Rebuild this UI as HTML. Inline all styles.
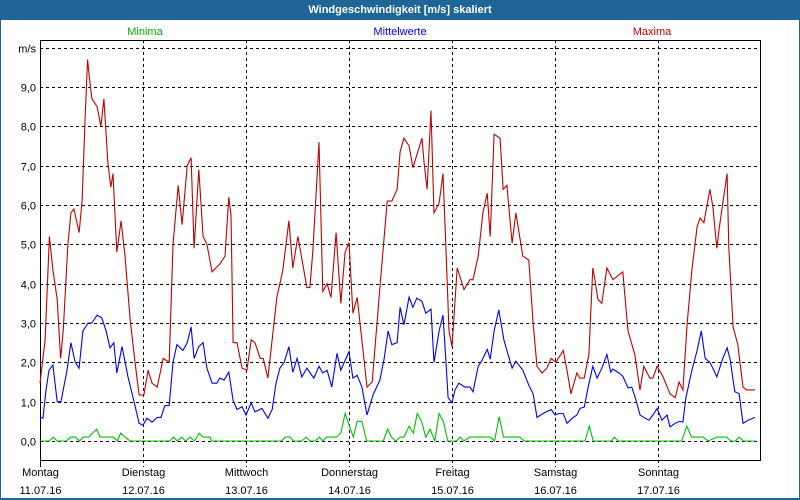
<!DOCTYPE html>
<html><head><meta charset="utf-8"><style>
body{margin:0;width:800px;height:500px;overflow:hidden;background:#fff;font-family:"Liberation Sans",sans-serif}
#frame{position:absolute;left:0;top:0;width:798px;height:498px;border:1px solid #1f6596;border-top:none;border-bottom:2px solid #1f6596;box-sizing:border-box;width:800px;height:500px}
#title{position:absolute;left:0;top:0;width:800px;height:20px;background:#1f6596;color:#fff;font-weight:bold;font-size:11px;text-align:center;line-height:20px}
svg{position:absolute;left:0;top:0}
</style></head><body>
<div id="frame"></div>
<div id="title">Windgeschwindigkeit [m/s] skaliert</div>
<svg id="chart" width="800" height="500"></svg>
<script>
const yTicks=[0,1,2,3,4,5,6,7,8,9];
const yTickLabels=["0,0","1,0","2,0","3,0","4,0","5,0","6,0","7,0","8,0","9,0"];
const dayNames=["Montag","Dienstag","Mittwoch","Donnerstag","Freitag","Samstag","Sonntag"];
const dayDates=["11.07.16","12.07.16","13.07.16","14.07.16","15.07.16","16.07.16","17.07.16"];
const maxHours=[0,1.2,2.2,3.0,4.0,4.8,5.4,6.5,7.2,7.9,9.1,9.8,10.5,11.1,11.4,12.1,13.3,14.2,14.9,15.8,16.5,17.0,17.9,18.9,19.8,21.0,22.1,23.1,24.2,25.2,26.1,27.3,28.7,30.1,31.0,32.2,33.1,34.3,35.2,35.9,37.0,38.0,38.9,40.1,41.9,43.1,44.0,44.5,45.0,45.9,47.1,48.2,49.2,50.1,51.3,52.0,53.1,54.3,55.2,56.6,58.0,58.9,60.1,62.2,62.9,63.6,65.0,65.9,66.9,67.8,69.0,70.1,71.1,72.0,72.9,73.9,76.2,77.4,79.2,80.9,82.0,83.2,83.9,84.8,86.0,86.9,89.0,89.5,90.2,91.1,91.8,93.0,93.9,94.6,95.3,96.0,97.2,98.8,100.2,100.9,102.1,103.2,104.2,104.9,105.8,107.2,107.9,108.8,110.0,110.9,112.5,113.9,114.9,115.8,117.0,118.1,119.1,120.2,121.9,122.8,123.7,125.1,125.8,126.8,127.9,128.8,129.3,130.0,130.9,132.1,133.5,135.8,137.0,138.6,139.8,140.7,142.1,142.8,143.8,145.2,146.8,148.0,148.9,149.8,150.8,151.9,153.1,153.8,154.7,156.1,156.8,157.7,158.2,159.1,160.1,160.5,161.5,162.6,163.8,164.7,166.6];
const maxValues=[1.47,2.57,5.2,4.35,3.6,2.1,2.8,5.0,5.8,5.9,5.3,6.1,8.2,9.7,9.35,8.7,8.5,8.0,8.7,7.1,6.45,6.8,4.8,5.6,4.7,3.1,2.05,1.17,1.17,1.8,1.47,1.37,2.1,2.0,5.0,6.5,5.5,7.0,7.2,4.9,6.9,5.2,5.0,4.3,4.5,4.7,6.2,5.75,2.5,2.5,1.85,1.8,2.57,2.5,2.1,2.1,1.6,2.77,3.66,4.35,5.6,4.4,5.2,3.9,3.9,4.85,7.6,3.8,4.0,3.65,5.3,3.5,4.8,5.05,3.25,3.65,1.37,1.5,3.9,6.1,6.1,6.4,7.35,7.7,7.5,6.95,7.7,7.07,6.4,8.4,5.8,6.05,6.8,4.85,2.8,2.4,4.4,3.85,4.1,4.1,4.7,5.8,6.3,5.2,7.8,7.7,6.4,6.5,5.03,5.8,4.7,4.6,3.0,1.9,1.73,1.85,2.1,2.0,2.3,1.8,1.2,1.73,1.6,1.6,2.2,4.4,4.1,3.6,3.5,4.4,4.1,4.3,2.8,2.2,1.3,1.9,1.6,1.6,1.9,1.63,1.2,1.1,1.5,1.3,3.0,4.35,5.45,5.67,5.55,6.4,5.95,4.9,5.35,6.05,6.8,4.93,2.9,2.45,1.37,1.3,1.3];
const meanHours=[0,0.7,1.4,2.1,3.0,4.0,4.9,6.3,7.2,8.2,9.1,10.0,11.2,12.1,13.3,14.4,15.4,16.3,17.2,17.9,19.1,20.5,21.7,23.1,24.0,24.9,26.1,27.3,28.2,29.1,30.1,31.0,31.9,33.3,34.3,35.2,35.9,37.0,38.0,38.9,40.1,41.2,41.9,42.9,44.0,45.0,45.9,47.1,48.0,49.2,50.1,51.7,53.1,54.1,55.0,55.9,56.9,58.0,58.9,59.9,61.0,62.2,63.8,65.0,65.9,66.9,68.0,69.2,70.1,71.1,72.0,72.9,73.9,75.0,76.2,77.6,79.2,80.2,81.1,82.0,83.2,83.9,84.8,86.0,86.9,87.8,89.0,89.9,91.1,91.8,93.0,93.9,94.6,95.1,96.0,96.7,97.6,99.0,100.2,100.9,102.1,103.0,104.2,104.9,105.8,106.9,108.1,108.8,110.0,110.9,112.5,113.9,114.9,115.8,117.2,119.1,120.0,120.9,121.9,122.8,124.0,125.1,125.8,126.8,127.7,128.8,129.8,130.9,132.1,133.0,133.5,134.9,135.8,137.0,137.9,138.9,139.8,141.0,141.9,142.8,143.8,144.9,146.1,146.8,148.0,149.1,149.8,150.5,151.9,153.1,154.1,155.0,156.1,157.0,157.7,159.1,160.1,160.8,161.9,162.9,163.8,165.0,166.6];
const meanValues=[0.6,0.58,1.3,1.8,1.93,1.0,1.0,1.8,2.5,2.0,1.85,2.8,3.0,3.0,3.2,3.13,2.8,2.37,2.5,1.73,2.4,1.63,1.1,0.45,0.4,0.58,0.48,0.6,0.6,0.9,0.9,2.0,2.45,2.3,2.5,2.9,2.1,2.4,2.5,1.85,1.47,1.47,1.6,1.55,1.75,1.03,0.8,0.87,0.66,0.97,0.74,0.83,0.58,0.8,1.47,1.85,2.0,2.4,1.75,2.1,1.63,1.85,1.6,1.9,1.73,1.8,1.37,2.23,1.8,2.05,2.27,1.6,1.67,1.37,0.66,1.17,1.55,2.1,2.8,2.45,2.5,3.4,2.95,3.66,3.4,3.63,3.55,3.25,3.35,2.0,2.8,3.2,2.0,1.1,0.97,1.3,1.47,1.37,1.37,1.25,1.9,2.05,2.33,2.08,2.8,3.33,2.57,2.3,1.85,2.03,1.8,1.42,1.2,0.6,0.7,0.8,0.66,0.7,0.7,0.45,0.58,0.66,0.83,0.86,1.35,1.9,1.6,1.85,2.2,1.75,1.83,1.73,1.65,1.35,1.37,1.03,0.66,0.58,0.53,0.66,0.83,0.53,0.66,0.36,0.45,0.5,0.48,1.1,1.8,2.3,2.8,2.1,2.0,1.8,1.63,2.1,2.37,2.08,1.25,1.2,0.45,0.53,0.6];
const minHours=[0,2.2,3.1,4.0,6.2,7.1,8.2,9.2,10.1,11.3,13.2,14.0,17.1,18.0,18.8,19.8,21.0,30.3,31.1,32.0,33.0,33.9,35.0,36.0,37.1,38.0,39.6,40.0,56.3,57.1,58.3,59.0,61.0,62.0,62.9,64.1,65.1,65.9,66.8,69.1,70.1,71.1,73.0,73.9,75.0,76.1,80.0,81.0,81.9,82.9,83.9,84.8,86.0,87.0,87.9,88.9,89.9,90.9,92.0,93.0,94.0,95.0,97.1,97.9,98.8,100.2,104.9,105.9,107.0,108.0,111.8,112.8,127.0,128.0,128.9,133.2,133.8,134.7,149.5,150.7,151.8,154.5,155.7,157.7,160.0,160.9,162.0,162.9,163.9,166.6];
const minValues=[0,0,0.1,0,0,0.1,0.1,0,0.1,0.1,0.3,0.1,0.1,0,0.2,0.1,0,0,0.1,0,0.1,0,0.1,0,0.2,0.1,0.1,0,0,0.1,0.1,0,0,0.1,0,0,0.1,0,0.1,0.1,0.2,0.7,0.1,0.5,0.5,0,0,0.3,0.1,0,0.1,0.1,0.38,0.2,0.7,0.5,0.1,0.3,0,0.7,0.5,0,0,0.1,0,0.1,0.1,0,0.62,0.1,0.1,0,0,0.38,0,0,0.1,0,0,0.38,0.1,0.1,0,0.1,0.1,0,0,0.1,0,0];

const L=40,R=760,T=40,B=460;
const xScale=h=>L+h*103/24;
const yScale=v=>441-v*39.33;
const NS="http://www.w3.org/2000/svg";
const svg=document.getElementById('chart');
function mk(tag,attrs){const e=document.createElementNS(NS,tag);for(const k in attrs)e.setAttribute(k,attrs[k]);svg.appendChild(e);return e;}
function txt(s,x,y,anchor,fill){const t=mk('text',{x:x,y:y,'text-anchor':anchor,fill:fill,'font-size':'11','font-family':'Liberation Sans, sans-serif'});t.textContent=s;return t;}

// horizontal grid
yTicks.concat([10]).forEach((v,i)=>{
  const y=Math.round(yScale(v))+0.5;
  const g=mk('line',{x1:L,x2:R,y1:y,y2:y,stroke:'#000','stroke-dasharray':'3,3'});
  
  
  const lab=txt(i<yTicks.length?yTickLabels[i]:'m/s',36,y+4,'end','#000');
  
  
});
// vertical grid + day labels
dayNames.forEach((d,i)=>{
  const x=Math.round(xScale(i*24))+0.5;
  if(i>0){const g=mk('line',{x1:x,x2:x,y1:T,y2:B+7,stroke:'#000','stroke-dasharray':'3,3'});
  
  }
  const a=txt(d,x,476,'middle','#000');
  
  
  const b=txt(dayDates[i],x,494,'middle','#000');
  
  
});
const fr=mk('rect',{x:L+0.5,y:T+0.5,width:R-L,height:B-T,fill:'none',stroke:'#000'});


const lx=mk('line',{x1:L+0.5,x2:L+0.5,y1:B,y2:B+7,stroke:'#000'});



function series(hours,vals,color,name){
  const pts=hours.map((h,i)=>xScale(h).toFixed(1)+','+yScale(vals[i]).toFixed(1)).join(' ');
  const p=mk('polyline',{points:pts,fill:'none',stroke:color,'stroke-width':'1.1'});
  
  
}
series(minHours,minValues,'#00c000','line-minima');
series(maxHours,maxValues,'#c00000','line-maxima');
series(meanHours,meanValues,'#0000ff','line-mittelwerte');

const l1=txt('Minima',145,35,'middle','#00b000');


const l2=txt('Mittelwerte',400,35,'middle','#0000ff');


const l3=txt('Maxima',652,35,'middle','#c00000');


</script>
</body></html>
